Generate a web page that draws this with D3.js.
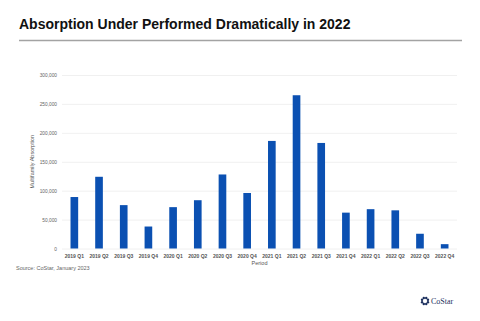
<!DOCTYPE html>
<html>
<head>
<meta charset="utf-8">
<script src="https://cdn.jsdelivr.net/npm/d3@7"></script>
<style>
  body { margin: 0; background: #fff; }
  text { font-family: "Liberation Sans", Arial, sans-serif; }
</style>
</head>
<body>
<svg id="chart"></svg>
<script>
// quarters and absorption values
const periods = ["2019 Q1","2019 Q2","2019 Q3","2019 Q4","2020 Q1","2020 Q2","2020 Q3","2020 Q4",
  "2021 Q1","2021 Q2","2021 Q3","2021 Q4","2022 Q1","2022 Q2","2022 Q3","2022 Q4"]
const absorption = [89000, 124000, 75000, 38000, 71500, 83500, 128000, 96000,
  186000, 265000, 182500, 62000, 68000, 66000, 25500, 7500]
const yTicks = [0, 50000, 100000, 150000, 200000, 250000, 300000]

const width = 480, height = 321
const margin = {top: 75, right: 23, bottom: 72.5, left: 62}

const svg = d3.select("#chart")
  .attr("width", width)
  .attr("height", height)

const data = periods.map((p, i) => ({period: p, value: absorption[i]}))

// title + rule
svg.append("text")
  .attr("x", 19).attr("y", 29)
  .attr("font-size", 14).attr("font-weight", "bold")
  .attr("fill", "#111")
  .text("Absorption Under Performed Dramatically in 2022")

svg.append("line")
  .attr("x1", 19).attr("x2", 462)
  .attr("y1", 40.5).attr("y2", 40.5)
  .attr("stroke", "#a3a3a3").attr("stroke-width", 1.5)

const xScale = d3.scaleBand()
  .domain(periods)
  .range([margin.left, width - margin.right])
  .paddingInner(0.69)
  .paddingOuter(0.345)

const yScale = d3.scaleLinear()
  .domain([0, 300000])
  .range([height - margin.bottom, margin.top])

// grid lines
const yAxis = svg.append("g")
  .attr("transform", `translate(${margin.left},0)`)
  .call(d3.axisLeft(yScale).tickValues(yTicks)
    .tickSize(-(width - margin.left - margin.right))
    .tickPadding(5)
    .tickFormat(d3.format(",")))
yAxis.select(".domain").remove()
yAxis.selectAll(".tick line").attr("stroke", "#ececec").attr("stroke-width", 0.8)
yAxis.selectAll(".tick text")
  .attr("font-size", 4.8).attr("fill", "#666")

svg.append("g").selectAll("rect")
  .data(data)
  .join("rect")
  .attr("x", d => xScale(d.period))
  .attr("width", xScale.bandwidth())
  .attr("y", d => yScale(d.value))
  .attr("height", d => yScale(0) - yScale(d.value))
  .attr("fill", "#0b50b2")

const xAxis = svg.append("g")
  .attr("transform", `translate(0,${height - margin.bottom})`)
  .call(d3.axisBottom(xScale).tickSize(0).tickPadding(6))
xAxis.select(".domain").remove()
xAxis.selectAll(".tick text")
  .attr("font-size", 5).attr("font-weight", "bold").attr("fill", "#555")

svg.append("text")
  .attr("x", (margin.left + width - margin.right) / 2)
  .attr("y", 265)
  .attr("text-anchor", "middle")
  .attr("font-size", 5.5).attr("fill", "#555")
  .text("Period")

svg.append("text")
  .attr("transform", `translate(34,${(margin.top + height - margin.bottom) / 2}) rotate(-90)`)
  .attr("text-anchor", "middle")
  .attr("font-size", 5.5).attr("fill", "#555")
  .text("Multifamily Absorption")

svg.append("text")
  .attr("x", 16).attr("y", 270)
  .attr("font-size", 5.5).attr("fill", "#666")
  .text("Source: CoStar, January 2023")

// CoStar logo
const logo = svg.append("g").attr("transform", "translate(425,301)")
d3.range(8).forEach(i => {
  const a = i * Math.PI / 4 + Math.PI / 8
  logo.append("circle")
    .attr("cx", 3.2 * Math.cos(a)).attr("cy", 3.2 * Math.sin(a))
    .attr("r", 1.2).attr("fill", "#1b2f5e")
})
logo.append("text")
  .attr("x", 6).attr("y", 2.5)
  .style("font-family", "'Liberation Serif', 'DejaVu Serif', serif")
  .attr("font-size", 8).attr("fill", "#1b2f5e")
  .text("CoStar")
</script>
</body>
</html>
